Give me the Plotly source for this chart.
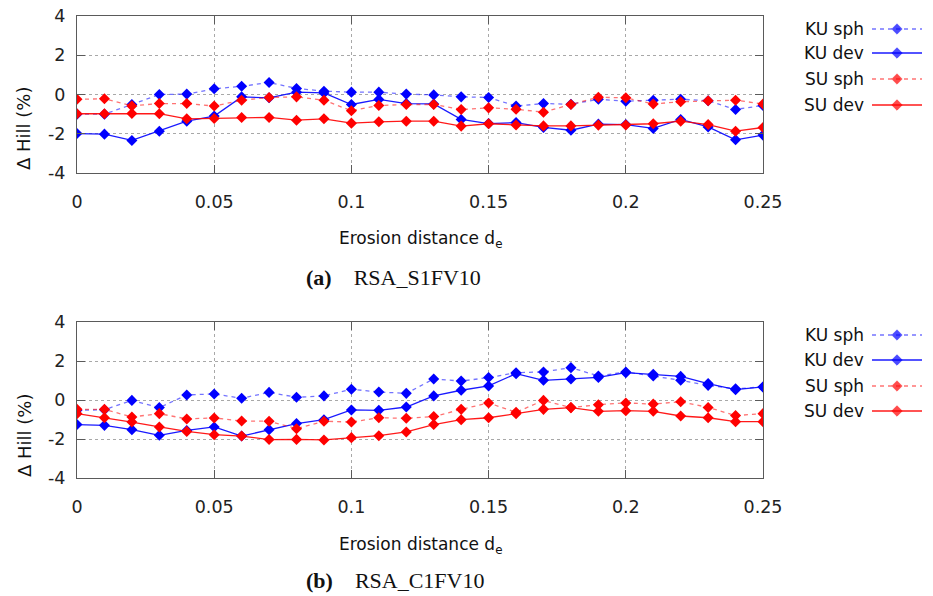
import plotly.graph_objects as go

W, H = 933, 596

x_vals = [round(i * 0.01, 2) for i in range(26)]

# (a) RSA_S1FV10
a_ku_sph = [-1.0, -1.0, -0.51, 0.0, 0.02, 0.29, 0.42, 0.61, 0.31, 0.17, 0.12, 0.12, 0.02,
            -0.02, -0.12, -0.15, -0.59, -0.46, -0.5, -0.24, -0.34, -0.29, -0.24, -0.32, -0.76, -0.56]
a_ku_dev = [-1.99, -2.02, -2.34, -1.87, -1.36, -1.10, -0.12, -0.17, 0.12, 0.08, -0.51, -0.25, -0.46,
            -0.48, -1.27, -1.48, -1.43, -1.68, -1.82, -1.51, -1.53, -1.73, -1.27, -1.65, -2.31, -2.07]
a_su_sph = [-0.24, -0.22, -0.58, -0.46, -0.46, -0.59, -0.29, -0.15, -0.12, -0.29, -0.83, -0.56, -0.51,
            -0.51, -0.76, -0.68, -0.75, -0.90, -0.51, -0.14, -0.17, -0.48, -0.37, -0.32, -0.29, -0.48]
a_su_dev = [-0.98, -0.98, -0.97, -0.98, -1.24, -1.22, -1.17, -1.17, -1.31, -1.24, -1.46, -1.39, -1.36,
            -1.36, -1.61, -1.49, -1.55, -1.60, -1.60, -1.56, -1.55, -1.49, -1.36, -1.53, -1.87, -1.68]

# (b) RSA_C1FV10
b_ku_sph = [-0.53, -0.5, -0.02, -0.39, 0.26, 0.31, 0.09, 0.39, 0.14, 0.21, 0.55, 0.41, 0.34,
            1.08, 0.97, 1.15, 1.40, 1.44, 1.66, 1.23, 1.44, 1.23, 1.01, 0.75, 0.58, 0.67]
b_ku_dev = [-1.26, -1.30, -1.52, -1.81, -1.56, -1.38, -1.85, -1.52, -1.21, -1.01, -0.51, -0.53, -0.36,
            0.21, 0.50, 0.72, 1.35, 1.01, 1.08, 1.16, 1.40, 1.32, 1.21, 0.84, 0.53, 0.67]
b_su_sph = [-0.48, -0.48, -0.87, -0.70, -0.97, -0.92, -1.08, -1.09, -1.47, -1.09, -1.13, -0.91, -0.94,
            -0.85, -0.48, -0.15, -0.63, -0.02, -0.39, -0.24, -0.15, -0.21, -0.09, -0.38, -0.80, -0.70]
b_su_dev = [-0.70, -0.91, -1.13, -1.38, -1.61, -1.78, -1.85, -2.03, -2.02, -2.05, -1.93, -1.83, -1.64,
            -1.26, -1.01, -0.91, -0.70, -0.48, -0.39, -0.58, -0.55, -0.58, -0.82, -0.91, -1.11, -1.11]

series_names = ["KU sph", "KU dev", "SU sph", "SU dev"]
x_tickvals = [0, 0.05, 0.1, 0.15, 0.2, 0.25]
x_ticktext = ["0", "0.05", "0.1", "0.15", "0.2", "0.25"]
y_tickvals = [-4, -2, 0, 2, 4]
y_ticktext = ["-4", "-2", "0", "2", "4"]
captions = [("(a)", "RSA_S1FV10"), ("(b)", "RSA_C1FV10")]

BLUE = "#0000ff"
RED = "#ff0000"
styles = [
    dict(color=BLUE, line=dict(color="rgba(0,0,255,0.55)", width=1.3, dash="4px,4px")),
    dict(color=BLUE, line=dict(color="rgba(0,0,255,0.9)", width=1.3)),
    dict(color=RED, line=dict(color="rgba(255,0,0,0.55)", width=1.3, dash="4px,4px")),
    dict(color=RED, line=dict(color="rgba(255,0,0,0.9)", width=1.3)),
]

def py(p):
    return 1 - p / H

def px(p):
    return p / W

fig = go.Figure()

panels = [
    ("x", "y", [a_ku_sph, a_ku_dev, a_su_sph, a_su_dev]),
    ("x2", "y2", [b_ku_sph, b_ku_dev, b_su_sph, b_su_dev]),
]
for xa, ya, data in panels:
    for name, ys, st in zip(series_names, data, styles):
        fig.add_trace(go.Scatter(
            x=x_vals, y=ys, name=name, mode="lines+markers",
            xaxis=xa, yaxis=ya, showlegend=False,
            line=st["line"],
            marker=dict(symbol="diamond", size=8.5, color=st["color"]),
        ))

# Legend samples (gnuplot style: text then sample)
legend_rows = [[29, 53, 79, 105], [335, 360, 386, 411]]
for rows in legend_rows:
    for name, row, st in zip(series_names, rows, styles):
        fig.add_trace(go.Scatter(
            x=[872, 897, 922], y=[row, row, row], mode="lines+markers",
            xaxis="x3", yaxis="y3", showlegend=False, hoverinfo="skip",
            line=st["line"],
            marker=dict(symbol="diamond", size=[0, 8, 0], color=st["color"]),
        ))

FONT = "DejaVu Sans"
frame = "#5a5a5a"
axis_common = dict(
    showline=True, linecolor=frame, linewidth=1.2, mirror="ticks",
    ticks="inside", ticklen=8, tickcolor=frame, tickwidth=1.2,
    showgrid=True, gridcolor="#a8a8a8", griddash="dot", gridwidth=1,
    zeroline=False, automargin=False,
    tickfont=dict(family=FONT, size=17.5, color="#222"),
)

plot_x = [px(77), px(763)]
fig.update_layout(
    template="none",
    width=W, height=H, margin=dict(l=0, r=0, t=0, b=0, autoexpand=False),
    paper_bgcolor="white", plot_bgcolor="rgba(0,0,0,0)",
    xaxis=dict(domain=plot_x, anchor="y", range=[0, 0.25], tickvals=x_tickvals,
               ticktext=x_ticktext, ticklabelstandoff=13, **axis_common),
    yaxis=dict(domain=[py(173), py(16)], anchor="x", range=[-4, 4], tickvals=y_tickvals,
               ticktext=y_ticktext, ticklabelstandoff=7, **axis_common),
    xaxis2=dict(domain=plot_x, anchor="y2", range=[0, 0.25], tickvals=x_tickvals,
                ticktext=x_ticktext, ticklabelstandoff=13, **axis_common),
    yaxis2=dict(domain=[py(478), py(322)], anchor="x2", range=[-4, 4], tickvals=y_tickvals,
                ticktext=y_ticktext, ticklabelstandoff=7, **axis_common),
    xaxis3=dict(domain=[0, 1], anchor="y3", range=[0, W], visible=False, fixedrange=True,
                automargin=False),
    yaxis3=dict(domain=[0, 1], anchor="x3", range=[H, 0], visible=False, fixedrange=True,
                automargin=False),
)

ann = []
# legend text
for rows in legend_rows:
    for name, row in zip(series_names, rows):
        ann.append(dict(x=px(866), y=py(row), xref="paper", yref="paper", text=name,
                        showarrow=False, xanchor="right", yanchor="middle",
                        font=dict(family=FONT, size=17, color="#111")))

# axis titles and captions
for (ytitle_c, xtitle_c, cap_c), (lbl, cap) in zip([(129, 239, 277), (436, 545, 580)], captions):
    ann.append(dict(x=px(24), y=py(ytitle_c), xref="paper", yref="paper", text="Δ Hill (%)",
                    textangle=-90, showarrow=False, xanchor="center", yanchor="middle",
                    font=dict(family=FONT, size=18, color="#111")))
    ann.append(dict(x=px(420), y=py(xtitle_c), xref="paper", yref="paper",
                    text="Erosion distance d<sub>e</sub>", showarrow=False,
                    xanchor="center", yanchor="middle",
                    font=dict(family=FONT, size=17, color="#111")))
    ann.append(dict(x=px(304), y=py(cap_c), xref="paper", yref="paper",
                    text="<b>" + lbl + "</b>\u00a0\u00a0\u00a0\u00a0" + cap, showarrow=False,
                    xanchor="left", yanchor="middle",
                    font=dict(family="Liberation Serif", size=22, color="#111")))
fig.update_layout(annotations=ann)

fig.write_html("out.html")
